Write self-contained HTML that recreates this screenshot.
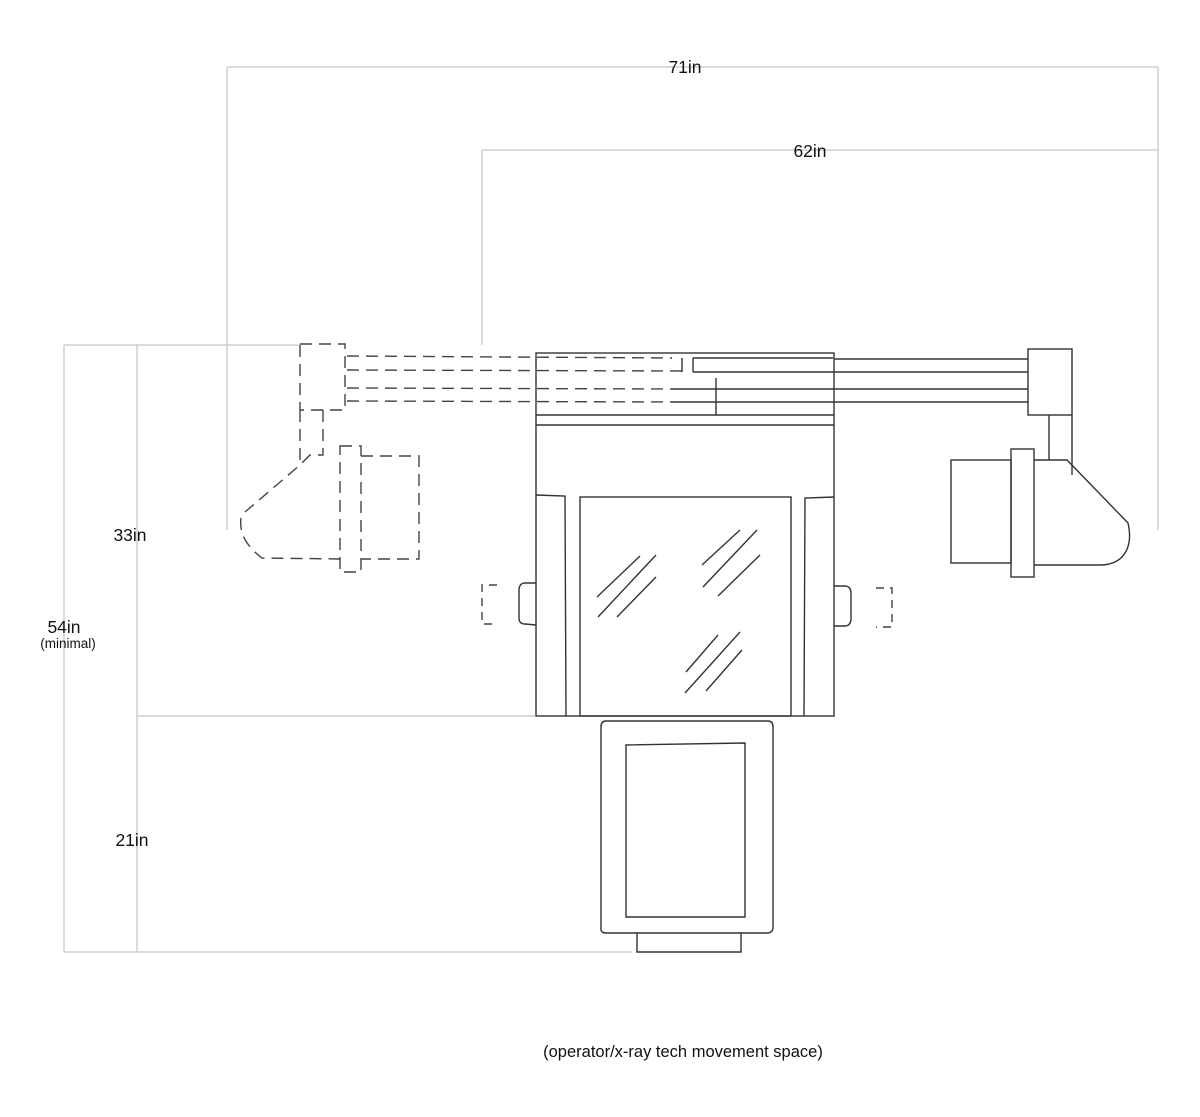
<!DOCTYPE html>
<html><head><meta charset="utf-8"><style>
html,body{margin:0;padding:0;background:#fff;}
svg{display:block;}
text{font-family:"Liberation Sans","DejaVu Sans",sans-serif;fill:#111;}
</style></head><body>
<svg width="1200" height="1117" viewBox="0 0 1200 1117" xmlns="http://www.w3.org/2000/svg">
<g stroke="#cfcfcf" stroke-width="1.5" fill="none">
<line x1="227" y1="67" x2="1158" y2="67"/>
<line x1="227" y1="67" x2="227" y2="530"/>
<line x1="1158" y1="67" x2="1158" y2="530"/>
<line x1="482" y1="150" x2="1158" y2="150"/>
<line x1="482" y1="150" x2="482" y2="345"/>
<line x1="64" y1="345" x2="64" y2="952"/>
<line x1="137" y1="345" x2="137" y2="952"/>
<line x1="64" y1="345" x2="300" y2="345"/>
<line x1="137" y1="716" x2="535" y2="716"/>
<line x1="64" y1="952" x2="632" y2="952"/>
</g>
<g stroke="#333" stroke-width="1.4" fill="none">
<rect x="536" y="353" width="298" height="363"/>
<line x1="536" y1="415" x2="834" y2="415"/>
<line x1="536" y1="425" x2="834" y2="425"/>
<line x1="716" y1="378" x2="716" y2="415"/>
<line x1="693" y1="358" x2="693" y2="372"/>
<line x1="682" y1="358" x2="682" y2="372"/>
<line x1="693" y1="358" x2="833" y2="358"/>
<line x1="834" y1="359" x2="1028" y2="359"/>
<line x1="693" y1="372" x2="1028" y2="372"/>
<line x1="672" y1="389" x2="1028" y2="389"/>
<line x1="672" y1="402" x2="1028" y2="402"/>
<rect x="1028" y="349" width="44" height="66"/>
<line x1="1049" y1="415" x2="1049" y2="460"/>
<line x1="1072" y1="415" x2="1072" y2="475"/>
<rect x="951" y="460" width="60" height="103"/>
<rect x="1011" y="449" width="23" height="128"/>
<path d="M1034 460 L1067 460 L1128 523 Q1133 545 1122 557 Q1114 565 1100 565 L1034 565"/>
<path d="M536 495 L565 496 L566 716"/>
<path d="M834 497 L805 498 L804 716"/>
<rect x="580" y="497" width="211" height="219"/>
<line x1="597" y1="597" x2="640" y2="556"/>
<line x1="598" y1="617" x2="656" y2="555"/>
<line x1="617" y1="617" x2="656" y2="577"/>
<line x1="702" y1="565" x2="740" y2="530"/>
<line x1="703" y1="587" x2="757" y2="530"/>
<line x1="718" y1="596" x2="760" y2="555"/>
<line x1="686" y1="672" x2="718" y2="635"/>
<line x1="685" y1="693" x2="740" y2="632"/>
<line x1="706" y1="691" x2="742" y2="650"/>
<path d="M536 583 L524 583 Q519 584 519 590 L519 618 Q519 624 525 624 L536 625"/>
<path d="M834 586 L846 586 Q851 587 851 593 L851 620 Q850 626 845 626 L834 626"/>
<path d="M606 721 L768 721 Q773 721 773 727 L773 927 Q773 933 767 933 L606 933 Q600 933 601 927 L601 727 Q601 721 606 721 Z"/>
<path d="M626 745 L745 743 L745 917 L626 917 Z"/>
<path d="M637 933 L637 952 L741 952 L741 933"/>
</g>
<g stroke="#444" stroke-width="1.4" fill="none" stroke-dasharray="12,7">
<line x1="347" y1="356" x2="672" y2="358"/>
<line x1="347" y1="370" x2="682" y2="371"/>
<line x1="347" y1="388" x2="672" y2="389"/>
<line x1="347" y1="401" x2="672" y2="402"/>
<rect x="300" y="344" width="45" height="66"/>
<line x1="300" y1="410" x2="300" y2="465"/>
<path d="M323 410 L323 455 L310 455 L300 465 L245 512"/>
<path d="M241 518 Q238 540 262 558 L340 559"/>
<rect x="340" y="446" width="21" height="126"/>
<path d="M361 456 L419 456 L419 559 L361 559"/>
<path d="M497 585 L482 585 L482 624 L497 624" stroke-dasharray="8,6"/>
<path d="M876 588 L892 588 L892 627 L876 627" stroke-dasharray="8,6"/>
</g>
<g font-size="17.5">
<text x="685" y="73" text-anchor="middle">71in</text>
<text x="810" y="157" text-anchor="middle">62in</text>
<text x="130" y="541" text-anchor="middle">33in</text>
<text x="64" y="633" text-anchor="middle">54in</text>
<text x="132" y="846" text-anchor="middle">21in</text>
</g>
<text x="68" y="648" text-anchor="middle" font-size="13.5">(minimal)</text>
<text x="683" y="1057" text-anchor="middle" font-size="16.5">(operator/x-ray tech movement space)</text>
</svg>
</body></html>
